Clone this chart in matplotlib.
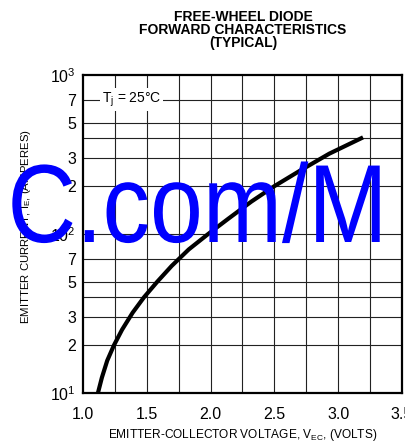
import matplotlib
matplotlib.use("Agg")
import matplotlib.pyplot as plt
from matplotlib.patheffects import AbstractPathEffect
from matplotlib.ticker import FixedLocator, NullLocator
from matplotlib.transforms import Affine2D

plt.rcParams["font.family"] = ["Liberation Sans", "DejaVu Sans"]
plt.rcParams["mathtext.fontset"] = "custom"
plt.rcParams["mathtext.rm"] = "Liberation Sans"
plt.rcParams["mathtext.it"] = "Liberation Sans:italic"

# forward characteristic, typical, Tj = 25 C
i_e = [10, 12.5, 16, 20, 25, 32, 40, 50, 63, 80, 100, 125, 160, 200, 250, 320, 400]
v_ec = [1.117, 1.148, 1.19, 1.243, 1.306, 1.389, 1.478, 1.581, 1.695, 1.829, 1.981,
        2.14, 2.32, 2.50, 2.70, 2.93, 3.18]

x_ticks = [1.0, 1.5, 2.0, 2.5, 3.0, 3.5]
x_grid = [1.25, 1.5, 1.75, 2.0, 2.25, 2.5, 2.75, 3.0, 3.25]
y_ticks = [10, 20, 30, 50, 70, 100, 200, 300, 500, 700, 1000]
y_labels = [r"$\mathregular{10^{1}}$", "2", "3", "5", "7", r"$\mathregular{10^{2}}$",
            "2", "3", "5", "7", r"$\mathregular{10^{3}}$"]
y_grid = [20, 30, 40, 50, 70, 100, 200, 300, 400, 500, 700]


class Squeeze(AbstractPathEffect):
    """Draw text glyphs compressed horizontally about the text origin."""

    def __init__(self, sx):
        super().__init__()
        self._sx = sx

    def draw_path(self, renderer, gc, tpath, affine, rgbFace=None):
        renderer.draw_path(gc, tpath, Affine2D().scale(self._sx, 1.0) + affine, rgbFace)


fig = plt.figure(figsize=(4.06, 4.48), dpi=100)
ax = fig.add_axes([83 / 406, 1 - 393 / 448, 319 / 406, 318 / 448])

ax.set_yscale("log")
ax.set_xlim(1.0, 3.5)
ax.set_ylim(10, 1000)

for x in x_grid:
    ax.axvline(x, color="#222222", lw=0.8, zorder=1)
for y in y_grid:
    ax.axhline(y, color="#222222", lw=0.8, zorder=1)

ax.plot(v_ec, i_e, color="black", lw=3.0, solid_joinstyle="round", zorder=4)

ax.xaxis.set_major_locator(FixedLocator(x_ticks))
ax.xaxis.set_minor_locator(NullLocator())
ax.set_xticklabels([f"{t:.1f}" for t in x_ticks])
ax.yaxis.set_major_locator(FixedLocator(y_ticks))
ax.yaxis.set_minor_locator(NullLocator())
ax.set_yticklabels(y_labels)
ax.tick_params(axis="both", length=0, labelsize=11.5)
ax.tick_params(axis="x", pad=10)
ax.tick_params(axis="y", pad=5)

for s in ax.spines.values():
    s.set_linewidth(1.6)
    s.set_zorder(5)

ax.text(1.147, 700, r"T$\mathregular{_j}$ = 25°C", fontsize=10, ha="left", va="center",
        bbox=dict(facecolor="white", edgecolor="none", pad=1.5), zorder=3)

fig.text(243 / 406, 1 - 30 / 448, "FREE-WHEEL DIODE\nFORWARD CHARACTERISTICS\n(TYPICAL)",
         ha="center", va="center", fontsize=10, fontweight="bold", linespacing=0.95)
fig.text(243 / 406, 1 - 435 / 448, r"EMITTER-COLLECTOR VOLTAGE, V$\mathregular{_{EC}}$, (VOLTS)",
         ha="center", va="center", fontsize=8.6)
fig.text(26 / 406, 1 - 227 / 448, r"EMITTER CURRENT, I$\mathregular{_E}$, (AMPERES)",
         ha="center", va="center", rotation=90, fontsize=8.2)

# site watermark, narrow lettering
fig.text(7.5 / 406, 1 - 242 / 448, "C.com/M", color="#0000ff", fontsize=80,
         ha="left", va="baseline", zorder=3, path_effects=[Squeeze(0.855)])

fig.savefig("out.png", dpi=100)
